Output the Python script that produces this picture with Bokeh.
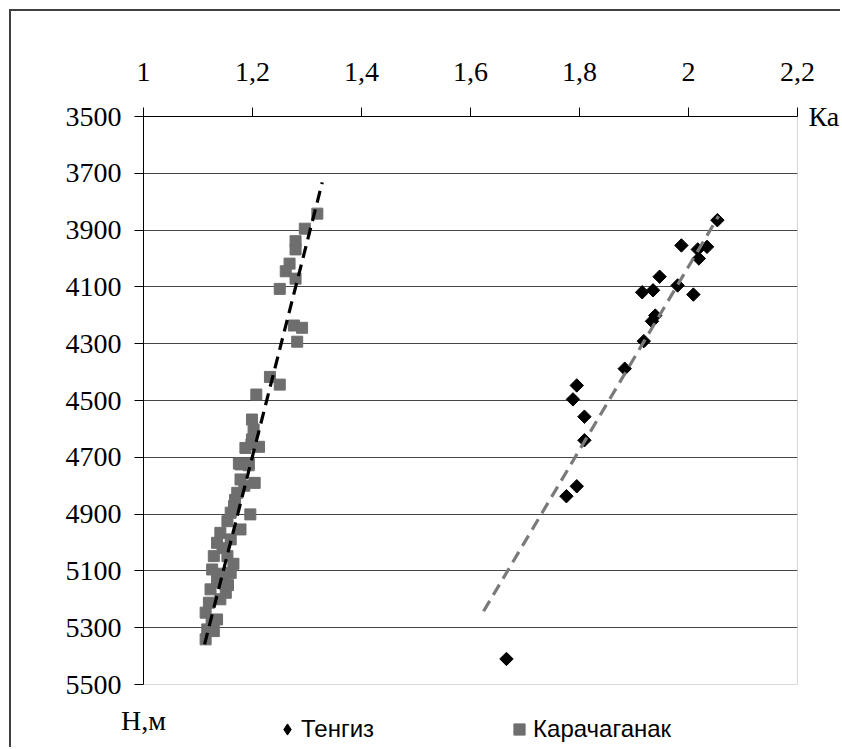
import numpy as np
from bokeh.plotting import figure
from bokeh.layouts import column
from bokeh.models import (Range1d, FixedTicker, CustomJSTickFormatter, Legend, LegendItem,
                          LinearAxis)
from bokeh.embed import file_html
from bokeh.resources import INLINE

# Тенгиз (black diamonds)
tengiz_x = [2.053, 2.034, 2.017, 2.019, 1.987, 1.947, 1.935, 1.915, 1.980, 2.009,
            1.939, 1.933, 1.918, 1.883, 1.795, 1.788, 1.809, 1.809, 1.795, 1.776, 1.666]
tengiz_y = [3865, 3959, 3968, 4000, 3954, 4064, 4112, 4119, 4095, 4127,
            4201, 4221, 4291, 4388, 4447, 4496, 4557, 4640, 4802, 4837, 5410]

# Карачаганак (gray squares)
karach_x = [1.319, 1.296, 1.279, 1.279, 1.268, 1.261, 1.279, 1.250, 1.276, 1.291,
            1.282, 1.232, 1.250, 1.207, 1.199, 1.202, 1.199, 1.187, 1.212, 1.198,
            1.175, 1.193, 1.178, 1.193, 1.204, 1.178, 1.172, 1.166, 1.160, 1.196,
            1.154, 1.178, 1.141, 1.135, 1.160, 1.129, 1.154, 1.160, 1.126, 1.135,
            1.123, 1.151, 1.120, 1.141, 1.114, 1.135, 1.117, 1.114, 1.129, 1.145,
            1.165, 1.140, 1.155, 1.168, 1.185, 1.146, 1.125]
karach_y = [3842, 3895, 3939, 3968, 4018, 4045, 4071, 4107, 4236, 4244,
            4293, 4417, 4444, 4479, 4567, 4602, 4637, 4667, 4663, 4655,
            4722, 4722, 4725, 4728, 4790, 4778, 4825, 4872, 4895, 4901,
            4925, 4954, 4966, 5001, 4989, 5048, 5048, 5107, 5095, 5130,
            5165, 5177, 5212, 5200, 5247, 5271, 5306, 5341, 5312, 5020,
            5075, 5140, 5150, 4850, 4800, 5110, 5280]

# trend lines (as drawn in the source)
karach_trend_x = [1.112, 1.328]
karach_trend_y = [5359, 3732]
tengiz_trend_x = [1.624, 2.055]
tengiz_trend_y = [5242, 3851]

x_ticks = [1.0, 1.2, 1.4, 1.6, 1.8, 2.0, 2.2]
y_ticks = [3500, 3700, 3900, 4100, 4300, 4500, 4700, 4900, 5100, 5300, 5500]
x_title = "Ка"
y_title = "Н,м"
series_names = ["Тенгиз", "Карачаганак"]

SERIF = "Liberation Serif"
FS = "28px"
TENGIZ_COLOR = "black"
KARACH_COLOR = "#6e6e6e"

W = 831
p = figure(width=W, height=738, x_range=Range1d(1.0, 2.2), y_range=Range1d(5500, 3500),
           x_axis_location="above", output_backend="svg", toolbar_location=None,
           min_border_left=132, min_border_top=105, min_border_right=45, min_border_bottom=65)

p.background_fill_color = "white"
p.border_fill_color = "white"
p.outline_line_color = "#d9d9d9"
p.outline_line_width = 1

p.xgrid.visible = False
p.ygrid.ticker = FixedTicker(ticks=y_ticks[1:-1])
p.ygrid.grid_line_color = "#454545"
p.ygrid.grid_line_width = 1

xa = p.xaxis[0]
xa.ticker = FixedTicker(ticks=x_ticks)
xa.formatter = CustomJSTickFormatter(code="""
    var s = tick.toFixed(1);
    if (s.endsWith('.0')) { s = s.slice(0, -2); }
    return s.replace('.', ',');
""")
ya = p.yaxis[0]
ya.ticker = FixedTicker(ticks=y_ticks)
for ax in (xa, ya):
    ax.major_tick_out = 9
    ax.major_tick_in = 0
    ax.minor_tick_out = 0
    ax.minor_tick_in = 0
    ax.axis_line_color = "black"
    ax.major_tick_line_color = "black"
    ax.major_label_text_font = SERIF
    ax.major_label_text_font_size = FS
    ax.major_label_text_color = "black"
xa.major_label_standoff = 27
ya.major_label_standoff = 13


def title_axis(text, tick, standoff):
    return LinearAxis(ticker=FixedTicker(ticks=[tick]),
                      formatter=CustomJSTickFormatter(code="return '%s';" % text),
                      axis_line_color=None, major_tick_line_color=None,
                      major_tick_out=0, major_tick_in=0, minor_tick_out=0, minor_tick_in=0,
                      major_label_standoff=standoff, major_label_text_font=SERIF,
                      major_label_text_font_size=FS, major_label_text_color="black")


# "Ка" at the right end of the top axis, "Н,м" under the left axis
p.add_layout(title_axis(x_title, y_ticks[0], 11), "right")
p.add_layout(title_axis(y_title, x_ticks[0], 20), "below")

p.scatter(tengiz_x, tengiz_y, marker="square", angle=np.pi / 4, size=9.5,
          fill_color=TENGIZ_COLOR, line_color=TENGIZ_COLOR)
p.scatter(karach_x, karach_y, marker="square", size=11,
          fill_color=KARACH_COLOR, line_color=KARACH_COLOR)

p.line(karach_trend_x, karach_trend_y, line_color="black", line_width=3.2, line_dash="12 7")
p.line(tengiz_trend_x, tengiz_trend_y, line_color="#7a7a7a", line_width=3.2, line_dash="12 7")

# legend strip, laid over the bottom of the chart
p2 = figure(width=W, height=45, x_range=Range1d(0, 1), y_range=Range1d(0, 1),
            output_backend="svg", toolbar_location=None, min_border=0,
            x_axis_type=None, y_axis_type=None, styles={"margin-top": "-45px"})
p2.outline_line_color = None
p2.xgrid.visible = False
p2.ygrid.visible = False
p2.border_fill_alpha = 0
p2.background_fill_alpha = 0

d1 = p2.scatter([-10], [-10], marker="diamond", size=15,
                fill_color=TENGIZ_COLOR, line_color=TENGIZ_COLOR)
d2 = p2.scatter([-10], [-10], marker="square", size=11,
                fill_color=KARACH_COLOR, line_color=KARACH_COLOR)

legend = Legend(items=[LegendItem(label=series_names[0], renderers=[d1]),
                       LegendItem(label=series_names[1], renderers=[d2])],
                orientation="horizontal", location=(130, 6),
                label_text_font="Liberation Sans", label_text_font_size="24px",
                label_text_color="black",
                spacing=131, glyph_width=28, glyph_height=28, label_standoff=0,
                border_line_alpha=0, background_fill_alpha=0, padding=0, margin=0)
p2.add_layout(legend)

layout = column(p, p2, spacing=0,
                styles={"margin-left": "11px", "margin-top": "11px",
                        "box-shadow": "-2px -2px 0 0 #404040"})

open("out.html", "w").write(file_html(layout, INLINE))
